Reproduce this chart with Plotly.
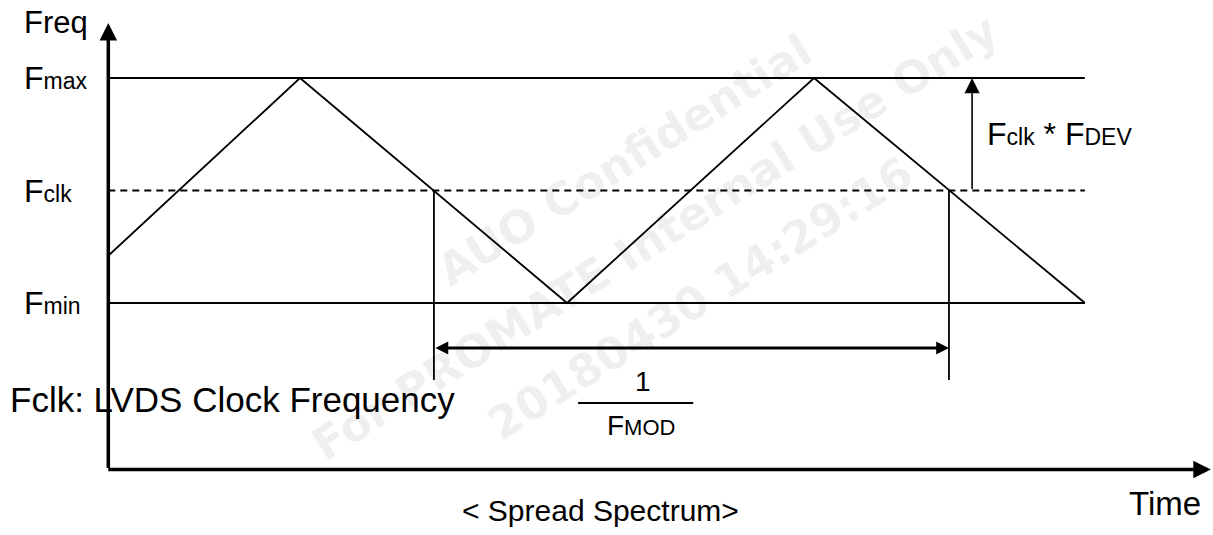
import plotly.graph_objects as go

# ---------------- data (time in arbitrary units, frequency relative to Fclk) ----------------
wave_time = [0.0, 0.746, 1.785, 2.746, 3.80]
wave_freq = [-0.58, 1.0, -1.0, 1.0, -1.0]

level_labels = ["F<span style='font-size:23px'>max</span>",
                "F<span style='font-size:23px'>clk</span>",
                "F<span style='font-size:23px'>min</span>"]
level_values = [1.0, 0.0, -1.0]          # Fmax, Fclk, Fmin
level_dash = ["solid", "7px,5px", "solid"]
level_span = [0.0, 3.80]

period_marks = [1.267, 3.271]            # Fclk crossings on the falling edges
period_mark_bottom = -1.684
period_arrow_level = -1.40

dev_arrow_time = 3.361
axis_time_end = 4.29
axis_freq_top = 1.489
axis_freq_bottom = -2.48

watermark_lines = ["AUO Confidential", "For PROMATE Internal Use Only", "20180430 14:29:16"]

# ---------------- figure ----------------
FONT = "Liberation Sans, Arial, sans-serif"
fig = go.Figure()

# Fmax / Fclk / Fmin levels
for v, d in zip(level_values, level_dash):
    fig.add_trace(go.Scatter(x=level_span, y=[v, v], mode="lines",
                             line=dict(color="black", width=2, dash=d),
                             hoverinfo="skip", showlegend=False))

# triangle modulation
fig.add_trace(go.Scatter(x=wave_time, y=wave_freq, mode="lines",
                         line=dict(color="black", width=1.8),
                         hoverinfo="skip", showlegend=False))

# period marker verticals
for t in period_marks:
    fig.add_trace(go.Scatter(x=[t, t], y=[0.0, period_mark_bottom], mode="lines",
                             line=dict(color="black", width=1.8),
                             hoverinfo="skip", showlegend=False))

# fraction bar for 1/FMOD
frac_center = 2.052
fig.add_trace(go.Scatter(x=[frac_center - 0.224, frac_center + 0.224], y=[-1.889, -1.889],
                         mode="lines", line=dict(color="black", width=2),
                         hoverinfo="skip", showlegend=False))

ann = []
# watermark (semi-transparent so it sits visually behind the black lines)
wm_pos = [(624.0, 160.0), (655.0, 237.0), (700.0, 298.0)]
for txt, (px, py) in zip(watermark_lines, wm_pos):
    ann.append(dict(x=(px - 108.3) / 257, y=(190.5 - py) / 112.5, xref="x", yref="y",
                    text="<b>" + txt + "</b>", showarrow=False, textangle=-32,
                    font=dict(family="DejaVu Sans", size=45, weight="bold",
                              color="rgba(0,0,0,0.08)"),
                    xanchor="center", yanchor="middle"))

# axes arrows
ann.append(dict(x=0, y=axis_freq_top, ax=0, ay=axis_freq_bottom, xref="x", yref="y",
                axref="x", ayref="y", text="", showarrow=True, arrowhead=2, arrowsize=1,
                arrowwidth=3.5, arrowcolor="black", standoff=0))
ann.append(dict(x=axis_time_end, y=axis_freq_bottom, ax=-0.006, ay=axis_freq_bottom, xref="x", yref="y",
                axref="x", ayref="y", text="", showarrow=True, arrowhead=2, arrowsize=1,
                arrowwidth=3.5, arrowcolor="black", standoff=0))
# deviation arrow
ann.append(dict(x=dev_arrow_time, y=level_values[0], ax=dev_arrow_time, ay=level_values[1],
                xref="x", yref="y", axref="x", ayref="y", text="", showarrow=True,
                arrowhead=2, arrowsize=1.9, arrowwidth=1.6, arrowcolor="black", standoff=0))
# period double arrow
ann.append(dict(x=period_marks[1], y=period_arrow_level, ax=period_marks[0], ay=period_arrow_level,
                xref="x", yref="y", axref="x", ayref="y", text="", showarrow=True,
                arrowhead=2, startarrowhead=2, arrowside="end+start", arrowsize=0.8,
                startarrowsize=0.8, arrowwidth=3.2, arrowcolor="black", standoff=0, startstandoff=0))

def label(x, y, text, size, xanchor="left"):
    return dict(x=x, y=y, xref="x", yref="y", text=text, showarrow=False,
                font=dict(family=FONT, size=size, color="black"),
                xanchor=xanchor, yanchor="middle")

ann.append(label(-0.337, 1.49, "Freq", 31))
for txt, v in zip(level_labels, level_values):
    ann.append(label(-0.337, v, txt, 32))
ann.append(label(3.412, 0.5, "F<span style='font-size:23px'>clk</span> * F<span style='font-size:23px'>DEV</span>", 32))
ann.append(label(-0.392, -1.862, "Fclk: LVDS Clock Frequency", 35))
ann.append(label(2.081, -1.70, "1", 28, "center"))
ann.append(label(2.073, -2.09, "F<span style='font-size:22px'>MOD</span>", 28, "center"))
ann.append(label(3.965, -2.78, "Time", 33))
ann.append(label(1.37, -2.84, "< Spread Spectrum>", 30))

fig.update_layout(
    width=1213, height=535, margin=dict(l=0, r=0, t=0, b=0),
    paper_bgcolor="white", plot_bgcolor="white",
    xaxis=dict(range=[-0.4214, 4.2984], visible=False, fixedrange=True),
    yaxis=dict(range=[-3.0622, 1.6933], visible=False, fixedrange=True),
    annotations=ann, showlegend=False,
)

fig.write_html("out.html", config={"displayModeBar": False},
               post_script="document.body.style.margin='0';")
